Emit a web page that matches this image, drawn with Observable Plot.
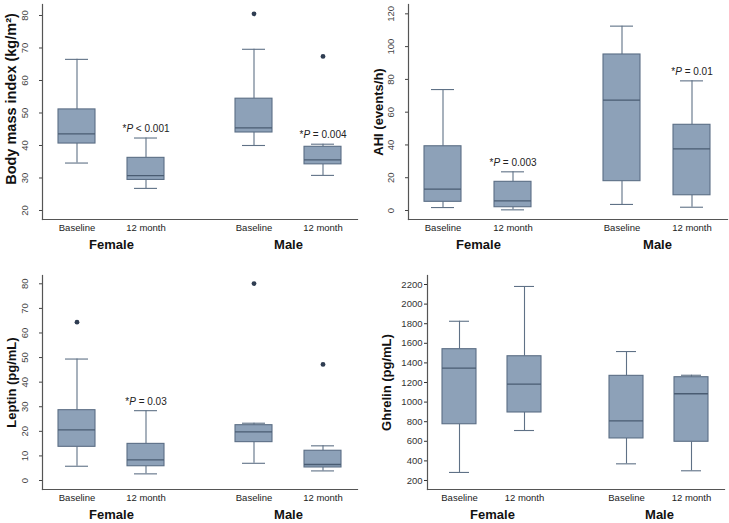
<!DOCTYPE html>
<html>
<head>
<meta charset="utf-8">
<script src="https://cdn.jsdelivr.net/npm/d3@7"></script>
<script src="https://cdn.jsdelivr.net/npm/@observablehq/plot@0.6"></script>
<style>
  body { margin: 0; background: #fff; }
  #grid { position: relative; width: 729px; height: 523px; background: #fff; }
  .panel { position: absolute; }
  .panel svg { display: block; }
</style>
</head>
<body>
<div id="grid">
  <div class="panel" id="p1" style="left:0px;top:0px"></div>
  <div class="panel" id="p2" style="left:360px;top:0px"></div>
  <div class="panel" id="p3" style="left:0px;top:260px"></div>
  <div class="panel" id="p4" style="left:360px;top:260px"></div>
</div>
<script>
const sexes = ["Female", "Male"];
const times = ["Baseline", "12 month"];

// Each box: [lower whisker, Q1, median, Q3, upper whisker]
// order: Female Baseline, Female 12 month, Male Baseline, Male 12 month
const bmiBoxes = [[34.6, 40.6, 43.6, 51.1, 66.5], [26.8, 29.4, 30.7, 36.2, 42.3], [40.0, 44.0, 45.4, 54.4, 69.6], [30.8, 34.2, 35.6, 39.6, 40.4]];
const bmiOutliers = [[], [], [80.5], [67.4]];
const bmiPvals = ["", "*P < 0.001", "", "*P = 0.004"];
const bmiTicks = [20, 30, 40, 50, 60, 70, 80];

const ahiBoxes = [[1.8, 5.3, 13.0, 39.2, 73.8], [0.4, 2.0, 5.9, 17.5, 23.6], [3.7, 17.9, 67.3, 95.2, 112.5], [2.0, 9.3, 37.6, 52.3, 79.1]];
const ahiOutliers = [[], [], [], []];
const ahiPvals = ["", "*P = 0.003", "", "*P = 0.01"];
const ahiTicks = [0, 20, 40, 60, 80, 100, 120];

const leptinBoxes = [[5.8, 13.7, 20.6, 28.6, 49.4], [2.7, 5.8, 8.4, 14.9, 28.4], [7.0, 15.6, 19.8, 22.5, 23.3], [3.9, 5.3, 6.5, 12.1, 14.1]];
const leptinOutliers = [[64.4], [], [80.1], [47.2]];
const leptinPvals = ["", "*P = 0.03", "", ""];
const leptinTicks = [0, 10, 20, 30, 40, 50, 60, 70, 80];

const ghrelinBoxes = [[282, 774, 1346, 1540, 1825], [710, 894, 1183, 1468, 2180], [370, 629, 809, 1268, 1516], [299, 595, 1085, 1254, 1274]];
const ghrelinOutliers = [[], [], [], []];
const ghrelinPvals = ["", "", "", ""];
const ghrelinTicks = [200, 400, 600, 800, 1000, 1200, 1400, 1600, 1800, 2000, 2200];

const FILL = "#8da1b8", EDGE = "#5b6e85", MED = "#4a5c72", WHISK = "#5f7186", DOT = "#2f3d52", AXIS = "#555";

function boxPanel(o) {
  const rows = o.boxes.map((b, i) => ({sex: sexes[i >> 1], time: times[i % 2], low: b[0], q1: b[1], med: b[2], q3: b[3], high: b[4], p: o.pvals[i]}));
  const outs = o.outliers.flatMap((vals, i) => vals.map(v => ({sex: sexes[i >> 1], time: times[i % 2], v})));
  const notes = rows.filter(d => d.p);
  const yAxis = o.rotate
    ? [Plot.axisY({ticks: o.ticks, tickSize: 3, text: null, label: null, color: "#444"}),
       Plot.axisY({ticks: o.ticks, tickSize: 0, tickRotate: -90, textAnchor: "middle", lineAnchor: "middle", dx: -9, fontSize: 9.5, label: null, color: "#444", tickFormat: d => String(d)})]
    : [Plot.axisY({ticks: o.ticks, tickSize: 3, tickPadding: 2, fontSize: 9.5, label: null, color: "#333", tickFormat: d => String(d)})];
  const svg = Plot.plot({
    width: o.width, height: o.height,
    marginLeft: o.ml, marginRight: o.mr, marginTop: o.mt, marginBottom: o.mb,
    style: {fontFamily: "'Liberation Sans', Arial, sans-serif", background: "#fff", color: "#222"},
    fx: {domain: sexes, paddingInner: 0.219, paddingOuter: 0, label: null},
    x: {domain: times, paddingInner: 0.47, paddingOuter: 0.225, label: null},
    y: {domain: o.yDomain, label: null},
    marks: [
      Plot.ruleX(rows, {fx: "sex", x: "time", y1: "low", y2: "q1", stroke: WHISK, strokeWidth: 1.1}),
      Plot.ruleX(rows, {fx: "sex", x: "time", y1: "q3", y2: "high", stroke: WHISK, strokeWidth: 1.1}),
      Plot.tickY(rows, {fx: "sex", x: "time", y: "low", stroke: WHISK, strokeWidth: 1.1, insetLeft: 7, insetRight: 7}),
      Plot.tickY(rows, {fx: "sex", x: "time", y: "high", stroke: WHISK, strokeWidth: 1.1, insetLeft: 7, insetRight: 7}),
      Plot.barY(rows, {fx: "sex", x: "time", y1: "q1", y2: "q3", fill: FILL, stroke: EDGE, strokeWidth: 1.1}),
      Plot.tickY(rows, {fx: "sex", x: "time", y: "med", stroke: MED, strokeWidth: 1.3}),
      Plot.dot(outs, {fx: "sex", x: "time", y: "v", r: 2.4, fill: DOT, stroke: null}),
      Plot.text(notes, {fx: "sex", x: "time", y: "high", text: "p", dy: -9, fontSize: 10, fill: "#222"}),
      Plot.frame({anchor: "left", facet: "super", stroke: AXIS, strokeWidth: 1.2}),
      Plot.frame({anchor: "bottom", facet: "super", stroke: AXIS, strokeWidth: 1.2}),
      ...yAxis,
      Plot.axisX({tickSize: 0, tickPadding: 5, fontSize: 9.5, label: null, color: "#222"}),
      Plot.axisFx({anchor: "bottom", tickSize: 0, tickPadding: 20, fontSize: 13, fontWeight: "bold", label: null, color: "#111"}),
      Plot.text([o.label], {text: d => d, frameAnchor: "left", textAnchor: "middle", rotate: -90, dx: -o.labelOffset, dy: o.labelDy || 0, facet: "super", fontSize: o.labelSize || 13, fontWeight: "bold", fill: "#111"})
    ]
  });
  svg.querySelectorAll("text").forEach(t => {
    const s = t.textContent;
    if (s.startsWith("*P")) {
      t.textContent = "";
      const ns = "http://www.w3.org/2000/svg";
      const a = document.createElementNS(ns, "tspan"); a.textContent = "*";
      const b = document.createElementNS(ns, "tspan"); b.textContent = "P"; b.setAttribute("font-style", "italic");
      const c = document.createElementNS(ns, "tspan"); c.textContent = s.slice(2);
      t.append(a, b, c);
    }
  });
  return svg;
}

document.getElementById("p1").append(boxPanel({
  boxes: bmiBoxes, outliers: bmiOutliers, pvals: bmiPvals, ticks: bmiTicks, rotate: true,
  label: "Body mass index (kg/m²)", labelOffset: 31, labelSize: 14.5, labelDy: -13,
  width: 360, height: 260, ml: 41, mr: 2, mt: 4, mb: 41, yDomain: [17.23, 83.38]
}));
document.getElementById("p2").append(boxPanel({
  boxes: ahiBoxes, outliers: ahiOutliers, pvals: ahiPvals, ticks: ahiTicks, rotate: true,
  label: "AHI (events/h)", labelOffset: 30,
  width: 369, height: 260, ml: 47, mr: 2, mt: 4, mb: 41, yDomain: [-5.49, 125.7]
}));
document.getElementById("p3").append(boxPanel({
  boxes: leptinBoxes, outliers: leptinOutliers, pvals: leptinPvals, ticks: leptinTicks, rotate: true,
  label: "Leptin (pg/mL)", labelOffset: 31,
  width: 360, height: 263, ml: 41, mr: 2, mt: 15, mb: 34, yDomain: [-3.66, 83.38]
}));
document.getElementById("p4").append(boxPanel({
  boxes: ghrelinBoxes, outliers: ghrelinOutliers, pvals: ghrelinPvals, ticks: ghrelinTicks, rotate: false,
  label: "Ghrelin (pg/mL)", labelOffset: 41,
  width: 369, height: 263, ml: 66, mr: 4, mt: 15, mb: 34, yDomain: [108, 2292]
}));
</script>
</body>
</html>
